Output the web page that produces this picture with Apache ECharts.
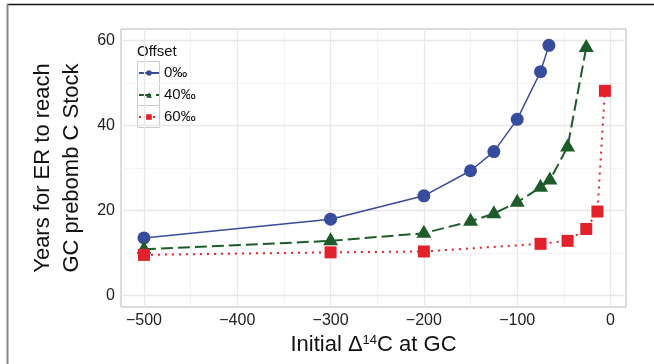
<!DOCTYPE html>
<html><head><meta charset="utf-8">
<script src="https://cdn.jsdelivr.net/npm/echarts@6/dist/echarts.min.js"></script>
<style>html,body{margin:0;padding:0;background:#fff}#c{width:654px;height:364px}</style>
</head><body><div id="c"></div>
<script>
const offsets = ['0‰', '40‰', '60‰'];
const blueX = [-500, -300, -200, -150, -125, -100, -75, -66];
const blueY = [13.6, 18.0, 23.5, 29.4, 33.9, 41.5, 52.7, 58.9];
const greenX = [-500, -300, -200, -150, -125, -100, -75, -65, -46, -26];
const greenY = [10.9, 12.9, 14.7, 17.5, 19.3, 22.0, 25.5, 27.2, 35.0, 58.4];
const redX = [-500, -300, -200, -75, -46, -26, -14, -6];
const redY = [9.6, 10.2, 10.4, 12.2, 12.9, 15.7, 19.8, 48.2];
const xTicks = [-500, -400, -300, -200, -100, 0];
const xMinor = [-450, -350, -250, -150, -50];
const yTicks = [0, 20, 40, 60];
const yMinor = [10, 30, 50];

const zip = (xs, ys) => xs.map((x, i) => [x, ys[i]]);
const BLUE = '#374C9C', GREEN = '#1D5C2A', RED = '#E3212B';

const gridLines = [].concat(
  xMinor.map(v => ({ xAxis: v, lineStyle: { color: '#F3F3F3', width: 1, type: 'solid' } })),
  yMinor.map(v => ({ yAxis: v, lineStyle: { color: '#F3F3F3', width: 1, type: 'solid' } })),
  xTicks.map(v => ({ xAxis: v, lineStyle: { color: '#E8E8E8', width: 1.3, type: 'solid' } })),
  yTicks.map(v => ({ yAxis: v, lineStyle: { color: '#E8E8E8', width: 1.3, type: 'solid' } }))
);

const chart = echarts.init(document.getElementById('c'), null, { renderer: 'canvas' });
const fmt = v => String(v).replace('-', '\u2212');
chart.setOption({
  animation: false,
  backgroundColor: '#fff',
  grid: { left: 121, right: 28, top: 29, bottom: 57, show: true, borderColor: '#B8B8B8', borderWidth: 1, backgroundColor: '#fff' },
  xAxis: {
    type: 'value', min: -524.6, max: 16.6,
    axisLine: { show: false }, splitLine: { show: false },
    axisTick: { show: true, customValues: xTicks, length: 4, lineStyle: { color: '#444', width: 1 } },
    axisLabel: { customValues: xTicks, fontSize: 16, color: '#222', margin: 6, formatter: fmt, fontFamily: 'Liberation Sans, Arial, sans-serif' },
    name: '{a|Initial Δ}{s|14}{a|C at GC}', nameLocation: 'middle', nameGap: 25,
    nameTextStyle: { fontFamily: 'Liberation Sans, Arial, sans-serif', color: '#111',
      rich: { a: { fontSize: 22, color: '#111', fontFamily: 'Liberation Sans, Arial, sans-serif' },
              s: { fontSize: 13, color: '#111', verticalAlign: 'top', fontFamily: 'Liberation Sans, Arial, sans-serif' } } }
  },
  yAxis: {
    type: 'value', min: -2.66, max: 62.75,
    axisLine: { show: false }, splitLine: { show: false },
    axisTick: { show: true, customValues: yTicks, length: 4, lineStyle: { color: '#444', width: 1 } },
    axisLabel: { customValues: yTicks, fontSize: 16, color: '#222', margin: 6, formatter: fmt, fontFamily: 'Liberation Sans, Arial, sans-serif' },
    name: 'Years for ER to reach\nGC prebomb C Stock', nameLocation: 'middle', nameGap: 35,
    nameTextStyle: { fontSize: 22, lineHeight: 29, color: '#111', fontFamily: 'Liberation Sans, Arial, sans-serif' }
  },
  legend: {
    orient: 'vertical', left: 138, top: 62, padding: 0, itemGap: 0,
    itemWidth: 20, itemHeight: 7, data: offsets,
    textStyle: { fontSize: 15, lineHeight: 22, color: '#111', fontFamily: 'Liberation Sans, Arial, sans-serif' }
  },
  graphic: [
    { type: 'rect', z: 3, shape: { x: 127, y: 37, width: 74, height: 93 }, style: { fill: '#fff' } },
    { type: 'rect', z: 3, shape: { x: 137.5, y: 61.5, width: 22, height: 22 }, style: { fill: '#fff', stroke: '#CCCCCC', lineWidth: 1 } },
    { type: 'rect', z: 3, shape: { x: 137.5, y: 83.5, width: 22, height: 22 }, style: { fill: '#fff', stroke: '#CCCCCC', lineWidth: 1 } },
    { type: 'rect', z: 3, shape: { x: 137.5, y: 105.5, width: 22, height: 22 }, style: { fill: '#fff', stroke: '#CCCCCC', lineWidth: 1 } },
    { type: 'text', z: 4, style: { x: 137, y: 52, text: 'Offset', fontSize: 15, fill: '#111', verticalAlign: 'middle', fontFamily: 'Liberation Sans, Arial, sans-serif' } },
    { type: 'line', z: 10, shape: { x1: 7, y1: 4.5, x2: 654, y2: 4.5 }, style: { stroke: '#111', lineWidth: 1.5 } },
    { type: 'line', z: 10, shape: { x1: 7.5, y1: 4, x2: 7.5, y2: 364 }, style: { stroke: '#888', lineWidth: 2 } }
  ],
  series: [
    { type: 'line', data: [], silent: true, z: 1, markLine: { silent: true, symbol: 'none', label: { show: false }, animation: false, data: gridLines } },
    { name: offsets[0], type: 'line', data: zip(blueX, blueY), symbol: 'circle', symbolSize: 13, z: 5,
      lineStyle: { color: BLUE, width: 1.5 }, itemStyle: { color: BLUE } },
    { name: offsets[1], type: 'line', data: zip(greenX, greenY), symbol: 'triangle', symbolSize: [15, 13], symbolOffset: [0, -2], z: 5,
      lineStyle: { color: GREEN, width: 2, type: [12, 5] }, itemStyle: { color: GREEN } },
    { name: offsets[2], type: 'line', data: zip(redX, redY), symbol: 'rect', symbolSize: 12, z: 5,
      lineStyle: { color: RED, width: 2, type: [2, 5] }, itemStyle: { color: RED } }
  ]
});
</script></body></html>
